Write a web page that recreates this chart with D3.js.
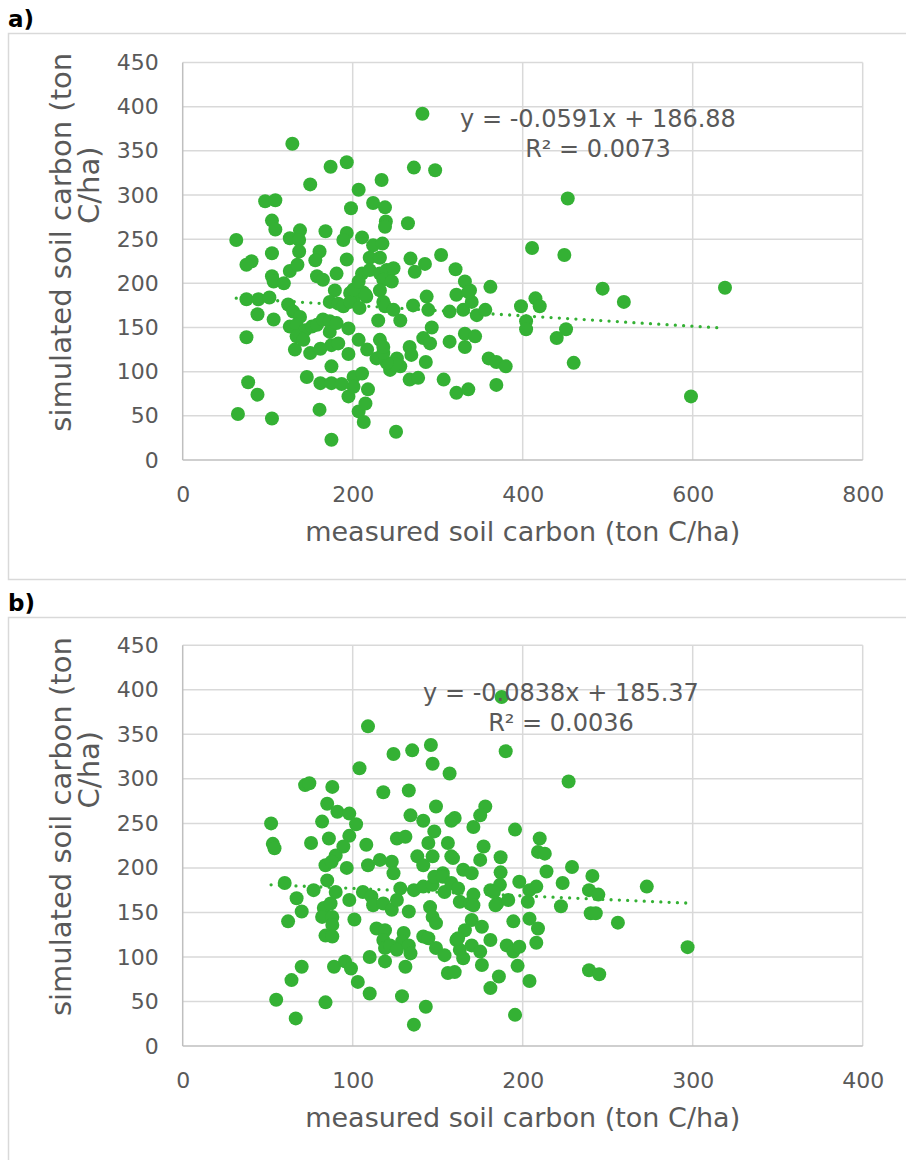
<!DOCTYPE html>
<html>
<head>
<meta charset="utf-8">
<script src="https://cdn.jsdelivr.net/npm/d3@7"></script>
<style>
  html, body { margin: 0; padding: 0; background: #ffffff; }
  svg { display: block; }
  text { font-family: "DejaVu Sans", Verdana, sans-serif; fill: #595959; }
</style>
</head>
<body>
<svg id="chart" width="906" height="1160"></svg>
<script>
// ---------- DATA ----------
const xTicksA = [0, 200, 400, 600, 800];
const xTicksB = [0, 100, 200, 300, 400];
const yTicks = [0, 50, 100, 150, 200, 250, 300, 350, 400, 450];

const measuredA = [282,129,193,174,272,297,234,150,207,97,
 109,198,224,238,265,239,238,105,109,63,
 126,138,137,168,193,189,211,224,235,411,
 304,268,285,220,232,193,161,156,105,137,
 81,75,273,321,126,135,105,107,119,158,
 165,181,211,220,232,240,248,236,246,232,
 212,216,197,201,179,173,183,189,197,208,
 236,238,248,256,230,271,287,289,293,283,
 291,314,322,330,332,338,340,346,356,362,
 332,332,344,360,369,380,369,322,336,307,
 398,404,404,415,420,286,267,269,252,256,
 244,250,240,228,236,232,236,267,277,217,
 207,195,175,201,211,195,201,218,207,215,
 213,251,175,161,146,162,175,187,77,88,
 65,105,75,75,89,102,88,107,124,130,
 138,126,134,144,152,158,165,173,132,150,
 162,175,183,173,181,195,134,142,215,201,
 207,453,449,494,638,336,314,451,440,460,
 598,519];
const simulatedA = [392,358,337,332,331,328,317,312,306,293,
 294,285,291,286,268,270,264,271,261,249,
 251,260,249,259,257,249,252,243,245,240,
 232,228,222,229,229,227,236,226,234,236,
 225,221,213,216,214,221,208,202,200,208,
 204,211,211,215,211,215,217,204,202,192,
 190,185,189,181,192,179,177,174,179,172,
 179,174,170,158,158,175,185,170,150,138,
 132,134,187,170,202,192,179,164,170,196,
 143,128,140,115,111,106,85,76,80,91,
 174,157,148,183,174,111,128,119,115,106,
 102,108,110,115,121,136,128,91,93,125,
 136,120,106,94,98,72,83,80,55,64,
 43,32,23,57,94,87,87,86,88,74,
 52,47,139,182,182,184,165,159,176,168,
 162,151,153,147,151,153,159,157,125,121,
 126,130,132,145,155,149,140,136,187,193,
 202,296,232,194,195,190,168,148,138,110,
 72,179];

const measuredB = [187.6,109,146,124,135,190,147,104,157,72,
 74.5,88,118,133,85,91,98,102,149,134,
 141.5,178,175,160,158,52,82,98,86,171,
 195.5,148,126,131,210,53,54,75.5,94.5,108,
 144.5,156,177,227,175,187,187,209,213,214,
 84,96.5,90,87.6,109,116,123,124,138,141.5,
 147,153,158,165,170,60,67,70,62,77,
 85,90,83,87,82,88,88,84,88,98,
 106,111,112,118,123,128,126,101,133,136,
 141.5,147,148,153,154,158,162,163,169,171,
 145.5,147,149,181,185,186.6,191.5,198,204,208,
 203,170,166,176,194.5,204,209,208,114,119,
 118,119,130,129,122,126,133,134,141.5,144.5,
 149,154,161,163,165,170,175,176,181,190.6,
 194.5,198,197,204,181,186,195.5,156,160,131,
 110,119,89,95.5,99,103,110,129,143,136,
 70,64,55,66.5,84,229,241,223.5,239,244.5,
 222.5,240,243,256,273,297,239,245,183,184,
 171,162,159];
const simulatedB = [392,359,338,328,332,331,317,312,306,293,
 295,291,285,287,272,263,261,249,269,259,
 253,269,259,256,253,250,252,236,233,246,
 243,241,233,235,233,227,222,228,224,226,
 228,228,224,297,209,212,195,218,216,196,
 203,200,214,207,203,209,207,194,213,203,
 213,194,213,198,194,183,166,151,140,175,
 186,173,155,160,145,145,136,124,123,164,
 173,168,158,160,153,177,164,142,151,175,
 179,181,190,190,173,183,177,162,160,170,
 156,145,138,175,160,181,164,184.5,175,179,
 162,141.5,130,134,140,143,132,116,132,130,
 119,110,127,117,113,108,113,104,123,121,
 110,102,119,108,98.5,113,106,91,119,113,
 106,111.5,90,73,65,78,35,82,83,89,
 100,95,89,95,87,72,59,56,44,24,
 89,74,52,31,49,201,191,183,175,170,
 157,149,149,138.5,179,111,85,80.5,173,158,
 158,121,211];

const trendA = { slope: -0.0591, intercept: 186.88, r2: "0.0073" };
const trendB = { slope: -0.0838, intercept: 185.37, r2: "0.0036" };

const panelLabels = ["a)", "b)"];
const xTitle = "measured soil carbon (ton C/ha)";
const yTitleLines = ["simulated soil carbon (ton", "C/ha)"];

// ---------- DRAW ----------
const GREEN = "#34b134";
const GRID = "#d9d9d9";
const AXIS = "#bfbfbf";
const svg = d3.select("#chart");

function eqText(t) {
  const s = t.slope < 0 ? "-" + Math.abs(t.slope) : String(t.slope);
  return "y = " + s + "x + " + t.intercept.toFixed(2);
}

function drawPanel(cfg) {
  const g = svg.append("g");
  // frame
  g.append("rect")
    .attr("x", 8.5).attr("y", cfg.frameTop + 0.5)
    .attr("width", 1000).attr("height", cfg.frameBottom - cfg.frameTop)
    .attr("fill", "none").attr("stroke", GRID).attr("stroke-width", 1.5);
  // panel label
  g.append("text").attr("x", 8).attr("y", cfg.labelY)
    .style("font-size", "23px").style("font-weight", "bold").style("fill", "#000")
    .text(cfg.label);

  const x = d3.scaleLinear().domain(cfg.xDomain).range([182.7, 862.7]);
  const y = d3.scaleLinear().domain([0, 450]).range([cfg.plotBottom, cfg.plotTop]);

  // gridlines
  g.append("g").selectAll("line.hg").data(yTicks.filter(v => v > 0)).join("line")
    .attr("x1", x(cfg.xDomain[0])).attr("x2", x(cfg.xDomain[1]))
    .attr("y1", d => y(d)).attr("y2", d => y(d))
    .attr("stroke", GRID).attr("stroke-width", 1.5);
  g.append("g").selectAll("line.vg").data(cfg.xTicks.filter(v => v > 0)).join("line")
    .attr("x1", d => x(d)).attr("x2", d => x(d))
    .attr("y1", y(0)).attr("y2", y(450))
    .attr("stroke", GRID).attr("stroke-width", 1.5);
  // axis lines
  g.append("line").attr("x1", x(0)).attr("x2", x(0)).attr("y1", y(0)).attr("y2", y(450))
    .attr("stroke", AXIS).attr("stroke-width", 1.5);
  g.append("line").attr("x1", x(0)).attr("x2", x(cfg.xDomain[1])).attr("y1", y(0)).attr("y2", y(0))
    .attr("stroke", AXIS).attr("stroke-width", 1.5);

  // tick labels via d3 axes
  const yAx = g.append("g").attr("transform", `translate(${x(0)},0)`)
    .call(d3.axisLeft(y).tickValues(yTicks).tickSize(0).tickPadding(24).tickFormat(d3.format("d")));
  const xAx = g.append("g").attr("transform", `translate(0,${y(0)})`)
    .call(d3.axisBottom(x).tickValues(cfg.xTicks).tickSize(0).tickPadding(26).tickFormat(d3.format("d")));
  [yAx, xAx].forEach(a => {
    a.select(".domain").remove();
    a.selectAll("text").style("font-size", "22px").style("fill", "#595959")
      .style("font-family", '"DejaVu Sans", Verdana, sans-serif');
  });

  // trendline
  const ext = d3.extent(cfg.mx);
  const tl = ext.map(v => [v, cfg.trend.slope * v + cfg.trend.intercept]);
  g.append("path")
    .attr("d", d3.line().x(d => x(d[0])).y(d => y(d[1]))(tl))
    .attr("fill", "none").attr("stroke", GREEN).attr("stroke-width", 3.3)
    .attr("stroke-linecap", "round").attr("stroke-dasharray", "0 8.3");

  // points
  g.append("g").selectAll("circle").data(cfg.mx.map((v, i) => [v, cfg.sy[i]])).join("circle")
    .attr("cx", d => x(d[0])).attr("cy", d => y(d[1])).attr("r", 7)
    .attr("fill", GREEN);

  // axis titles
  const midX = (x.range()[0] + x.range()[1]) / 2;
  g.append("text").attr("x", midX).attr("y", y(0) + 81)
    .attr("text-anchor", "middle").style("font-size", "27px").text(xTitle);
  const midY = (cfg.plotTop + cfg.plotBottom) / 2;
  g.append("text").attr("text-anchor", "middle")
    .attr("transform", `translate(71,${midY - 19}) rotate(-90)`)
    .style("font-size", "29px").text(yTitleLines[0]);
  g.append("text").attr("text-anchor", "middle")
    .attr("transform", `translate(99,${midY - 76}) rotate(-90)`)
    .style("font-size", "29px").text(yTitleLines[1]);

  // equation
  g.append("text").attr("x", cfg.eqX).attr("y", cfg.eqY).attr("text-anchor", "middle")
    .style("font-size", "24px").text(eqText(cfg.trend));
  g.append("text").attr("x", cfg.eqX).attr("y", cfg.eqY + 29.5).attr("text-anchor", "middle")
    .style("font-size", "24px").text("R² = " + cfg.trend.r2);
}

drawPanel({ label: panelLabels[0], labelY: 27, frameTop: 33, frameBottom: 579,
  plotTop: 62.5, plotBottom: 460, xDomain: [0, 800], xTicks: xTicksA,
  mx: measuredA, sy: simulatedA, trend: trendA, eqX: 598, eqY: 127 });
drawPanel({ label: panelLabels[1], labelY: 611, frameTop: 617, frameBottom: 1400,
  plotTop: 645.3, plotBottom: 1046, xDomain: [0, 400], xTicks: xTicksB,
  mx: measuredB, sy: simulatedB, trend: trendB, eqX: 561, eqY: 701 });
</script>
</body>
</html>
